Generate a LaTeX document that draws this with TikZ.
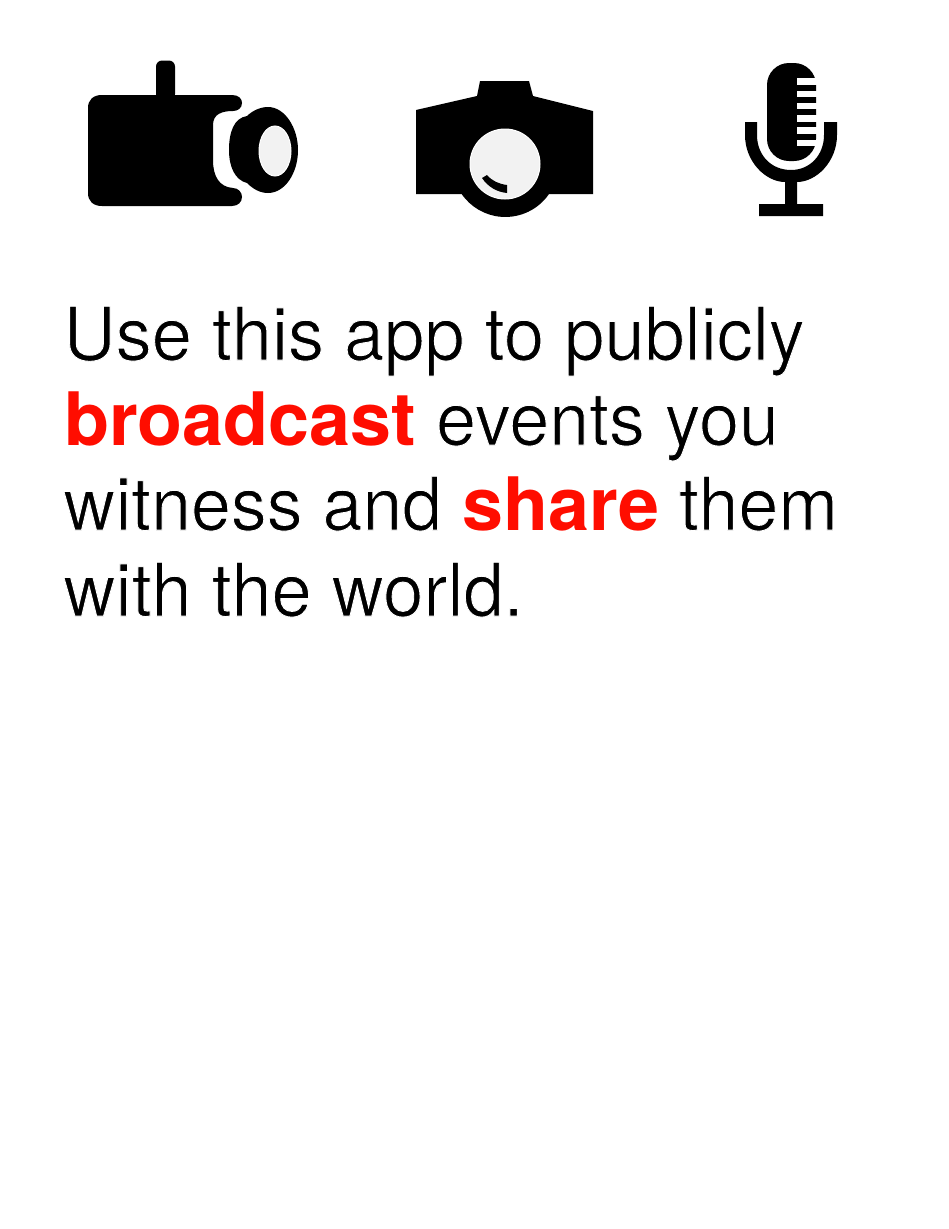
\documentclass[tikz,border=0pt]{standalone}
\usepackage{fontspec}
\setmainfont{TeX Gyre Heros}[FakeStretch=0.973]
\newfontfamily\widerfont{TeX Gyre Heros}[FakeStretch=0.98]
\newfontfamily\heavyfont{TeX Gyre Heros}[BoldFont={TeX Gyre Heros Bold}]
\definecolor{lensgrey}{HTML}{F2F2F2}
\definecolor{accent}{HTML}{FF0D00}
\newcommand{\thinon}{\special{pdf:code 2 Tr 1 1 1 RG 0.9 w}}
\newcommand{\thinoff}{\special{pdf:code 0 Tr}}
\newcommand{\hot}[1]{\thinoff\textcolor{accent}{\heavyfont\bfseries #1}\thinon}
\tikzset{
  x=1pt,y=-1pt,
  ink/.style={fill=black,draw=none},
  lens/.style={fill=lensgrey,draw=white,line width=1pt},
  gap/.style={fill=white,draw=none},
  textline/.style={anchor=base west,inner sep=0pt,outer sep=0pt,font=\fontsize{73.7}{85}\selectfont}
}
\begin{document}
\begin{tikzpicture}
\useasboundingbox (0,0) rectangle (948,1229);
\fill[white] (0,0) rectangle (948,1229);
% video camera
\path[ink,rounded corners=6pt] (156,100) -- (156,60.5) -- (175,60.5) -- (175,100) -- cycle;
\path[ink] (102,95) -- (232,95) .. controls (239,95) and (242,99) .. (242,103)
  .. controls (242,108) and (238,111) .. (233,111)
  .. controls (222,111) and (213,114) .. (213,125)
  -- (213,160) .. controls (213,176) and (219,187) .. (233,188)
  .. controls (238,188) and (242,192) .. (242,197)
  .. controls (242,202) and (238,206) .. (232,206)
  -- (102,206) .. controls (93,206) and (88,201) .. (88,193)
  -- (88,108) .. controls (88,100) and (93,95) .. (102,95) -- cycle;
\path[ink] (229,150) .. controls (229,132) and (234,118) .. (247,116)
  .. controls (252,111) and (260,107) .. (268,107)
  .. controls (285,107) and (298,128) .. (298,150)
  .. controls (298,173) and (285,193) .. (268,193)
  .. controls (260,193) and (253,189) .. (247,183)
  .. controls (235,180) and (229,167) .. (229,150) -- cycle;
\path[lens] (275,151) ellipse [x radius=16,y radius=25];
% photo camera
\path[ink] (480,81) -- (529,81) -- (533,96) -- (593,111) -- (593,194) -- (549,194)
  arc [start angle=-34.5,end angle=-145.5,radius=53,y radius=-53]
  -- (416,194) -- (416,110) -- (477,96) -- cycle;
\path[ink] (505,164) circle [radius=52];
\path[lens] (505,164) circle [radius=35];
\path[ink] (482,178) -- (487,175) .. controls (492,181) and (499,184) .. (507,185)
  -- (507,193) .. controls (497,192) and (488,187) .. (482,178) -- cycle;
% microphone
\path[ink,rounded corners=22pt] (767,63) rectangle (816,161);
\foreach \ya/\yb in {78/85,91/97,103/109,115/122,127/134,140/146}
  \path[gap] (797,\ya) rectangle (817,\yb);
\path[ink] (745,122) -- (757,122) -- (757,135)
  .. controls (757,155) and (771,170) .. (791,170)
  .. controls (810,170) and (824,155) .. (824,135)
  -- (824,122) -- (837,122) -- (837,135)
  .. controls (837,162) and (816,182) .. (797,182)
  -- (797,204) -- (823,204) -- (823,216) -- (759,216) -- (759,204) -- (785,204) -- (785,182)
  .. controls (766,182) and (745,162) .. (745,135) -- cycle;
% text
\node[textline] (l1) at (63.5,360) {\widerfont\thinon Use this app to publicly\thinoff};
\node[textline] (l2) at (64,445) {\hot{broadcast}\thinon{} events you\thinoff};
\node[textline] (l3) at (63.5,530) {\thinon witness and \hot{share} them\thinoff};
\node[textline] (l4) at (63.5,616) {\widerfont\thinon with the world.\thinoff};
\end{tikzpicture}
\end{document}
